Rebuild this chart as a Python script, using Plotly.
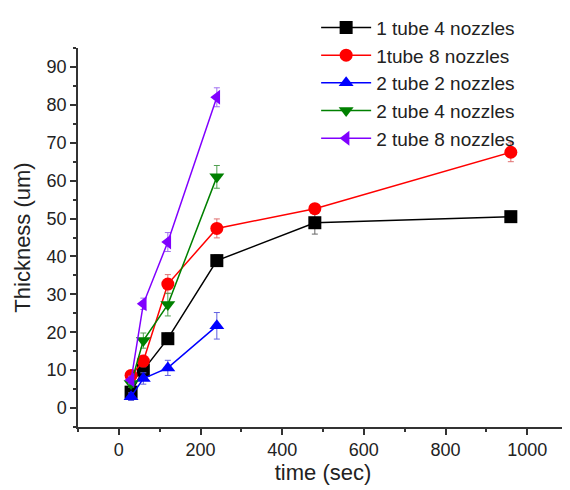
import plotly.graph_objects as go

time = [30, 60, 120, 240, 480, 960]
time_short = [30, 60, 120, 240]

names = ["1 tube 4 nozzles", "1tube 8 nozzles", "2 tube 2 nozzles", "2 tube 4 nozzles", "2 tube 8 nozzles"]
t1n4 = [4.2, 10.0, 18.3, 38.9, 48.9, 50.5]
t1n4_err = [1.0, 1.5, 1.5, 1.5, 3.0, 1.0]
t1n8 = [8.6, 12.4, 32.7, 47.4, 52.6, 67.5]
t1n8_err = [1.0, 1.5, 2.5, 2.5, 1.0, 2.5]
t2n2 = [3.0, 7.8, 10.6, 21.7]
t2n2_err = [1.0, 1.5, 2.0, 3.5]
t2n4 = [6.5, 17.8, 27.3, 61.0]
t2n4_err = [1.0, 2.0, 3.0, 3.0]
t2n8 = [7.4, 27.5, 43.8, 82.0]
t2n8_err = [1.0, 1.5, 2.5, 2.5]

series = [
    (names[0], time, t1n4, t1n4_err, "#000000", "#666666", "square"),
    (names[1], time, t1n8, t1n8_err, "#ff0000", "#e07070", "circle"),
    (names[2], time_short, t2n2, t2n2_err, "#0000ff", "#6060e0", "triangle-up"),
    (names[3], time_short, t2n4, t2n4_err, "#008000", "#50a050", "triangle-down"),
    (names[4], time_short, t2n8, t2n8_err, "#8000ff", "#a070f0", "triangle-left"),
]

fig = go.Figure()
for name, xs, ys, errs, col, ecol, sym in series:
    fig.add_trace(go.Scatter(
        x=xs, y=ys, name=name, mode="lines+markers",
        line=dict(color=col, width=1.5),
        marker=dict(color=col, symbol=sym, size=13),
        error_y=dict(type="data", array=errs, visible=True, color=ecol, thickness=1, width=3),
    ))

font_family = "Liberation Sans, Arial, sans-serif"
axcol = "#333333"
fig.update_layout(
    width=560, height=490,
    margin=dict(l=70, r=0, t=40, b=71),
    paper_bgcolor="white", plot_bgcolor="white",
    font=dict(family=font_family, size=18, color="#222222"),
    showlegend=True,
    legend=dict(x=0.486, y=1.104, xanchor="left", yanchor="top",
                font=dict(size=19, color="#222222"), bgcolor="rgba(255,255,255,0)",
                tracegroupgap=0, itemwidth=50),
    xaxis=dict(range=[-100, 1100], tickmode="array", tickvals=[0, 200, 400, 600, 800, 1000],
               ticks="outside", ticklen=6, tickcolor=axcol, tickwidth=1.5, showline=True, linecolor=axcol,
               linewidth=1.5, showgrid=False, zeroline=False, automargin=False,
               minor=dict(tickvals=[-100, 100, 300, 500, 700, 900, 1100], ticks="outside", ticklen=3,
                          tickcolor=axcol, tickwidth=1.5),
               title=dict(text="time (sec)", font=dict(size=22), standoff=3),
               tickfont=dict(size=18)),
    yaxis=dict(range=[-5, 95], tickmode="array", tickvals=[0, 10, 20, 30, 40, 50, 60, 70, 80, 90],
               ticks="outside", ticklen=6, tickcolor=axcol, tickwidth=1.5, showline=True, linecolor=axcol,
               linewidth=1.5, showgrid=False, zeroline=False, automargin=False,
               minor=dict(tickvals=[-5, 5, 15, 25, 35, 45, 55, 65, 75, 85, 95], ticks="outside", ticklen=3,
                          tickcolor=axcol, tickwidth=1.5),
               title=dict(text="Thickness (um)", font=dict(size=22), standoff=10),
               tickfont=dict(size=18)),
)

fig.write_html("out.html")
